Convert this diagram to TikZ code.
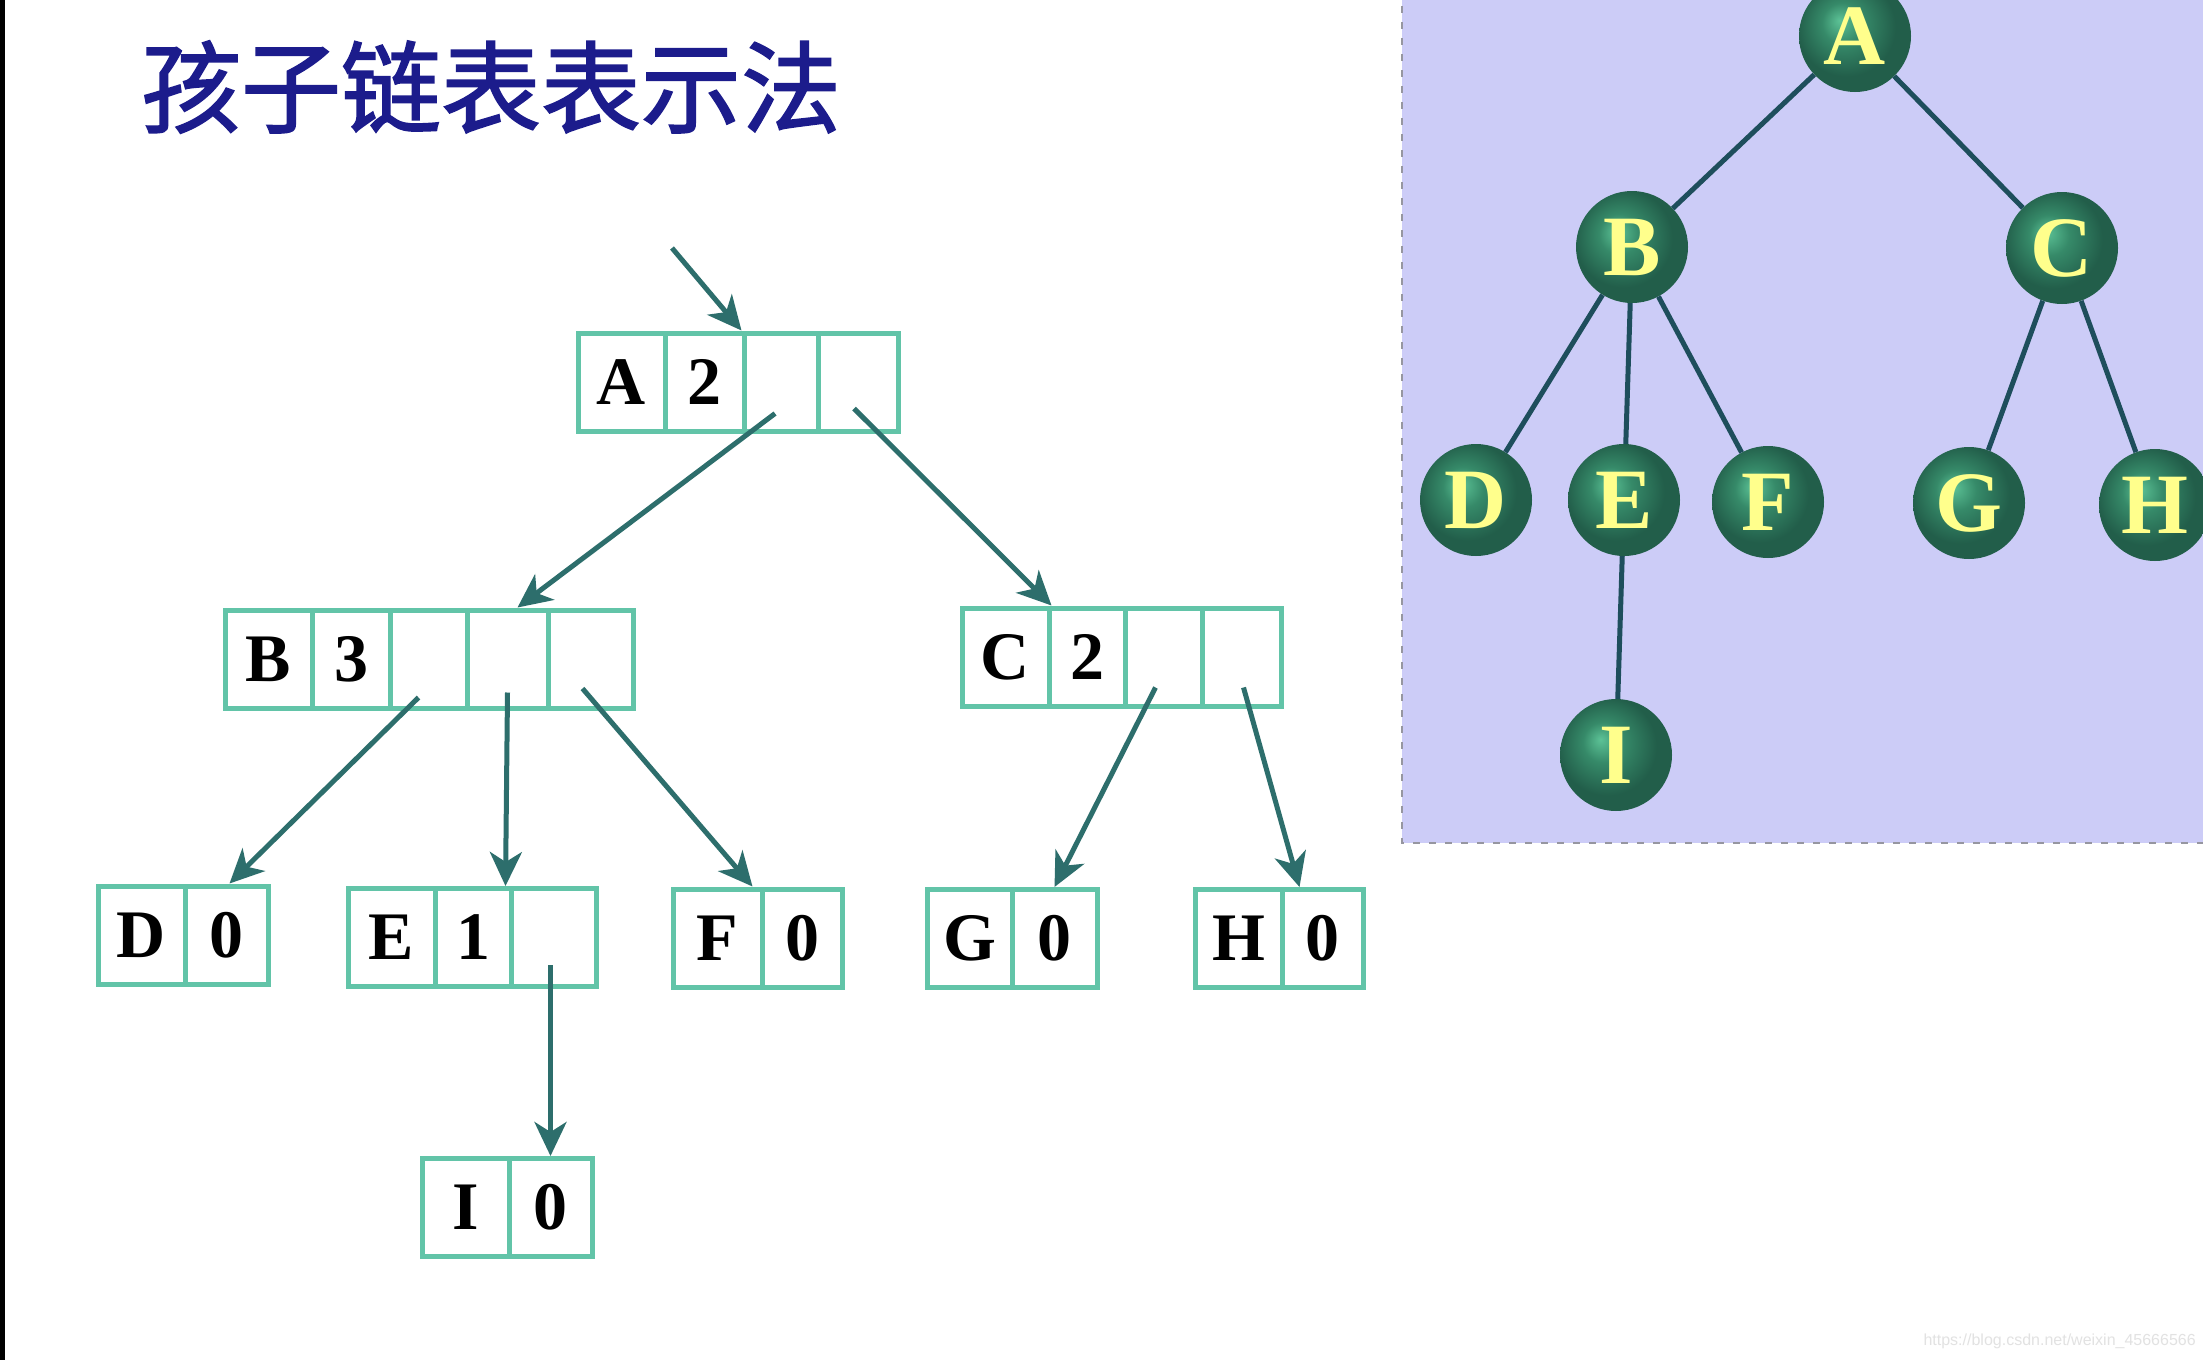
\documentclass[tikz,border=0pt]{standalone}
\usepackage{fontspec}
\setmainfont{Liberation Serif}
\newfontfamily\cjk[FakeBold=1.6]{Noto Sans CJK SC}
\newfontfamily\wmfont{Liberation Sans}
\usetikzlibrary{arrows.meta}
\definecolor{boxline}{RGB}{98,196,168}
\definecolor{arrowc}{RGB}{45,110,108}
\definecolor{titleblue}{RGB}{28,28,140}
\definecolor{panelbg}{RGB}{204,204,247}
\definecolor{paneledge}{RGB}{150,150,160}
\definecolor{treeedge}{RGB}{30,78,92}
\definecolor{gl}{RGB}{92,194,150}
\definecolor{gm}{RGB}{54,138,105}
\definecolor{gd}{RGB}{34,94,74}
\definecolor{letteryellow}{RGB}{255,255,140}
\definecolor{wm}{RGB}{226,226,226}
\pgfdeclareradialshading{greenball}{\pgfpoint{-7bp}{7bp}}{color(0bp)=(gl); color(9bp)=(gm); color(22bp)=(gd); color(25bp)=(gd); color(50bp)=(gd)}
\newcommand{\mkcell}[5]{\node[cellbox, minimum width=#3pt] (#1) at (#2,#4) {#5};}
\tikzset{
  cellbox/.style={draw=boxline, line width=5pt, fill=white, minimum height=98pt, inner sep=0pt,
    font=\fontsize{68}{70}\selectfont\bfseries, anchor=center},
  ptr/.style={draw=arrowc, line width=5pt, -{Stealth[length=34pt,width=32pt,inset=10pt]}},
  treenode/.style={circle, minimum size=112pt, inner sep=0pt, shading=greenball, text=letteryellow,
    font=\fontsize{86}{88}\selectfont\bfseries},
  treeline/.style={draw=treeedge, line width=5pt}
}
\begin{document}
\begin{tikzpicture}[x=1pt,y=-1pt]
\useasboundingbox (0,0) rectangle (2203,1360);
\begin{scope}
\clip (0,0) rectangle (2203,1360);
\fill[white] (0,0) rectangle (2203,1360);
\fill[black] (0,0) rectangle (5,1360);
% title
\node[font=\cjk\fontsize{100}{100}\selectfont, text=titleblue] (title) at (491,87) {孩子链表表示法};
% right panel
\fill[panelbg] (1402,-10) rectangle (2215,843);
\draw[paneledge, line width=2pt, dash pattern=on 7pt off 9pt] (1402,-10) -- (1402,843) -- (2215,843);
% tree
\node[treenode] (tA) at (1855,36) {A};
\node[treenode] (tB) at (1632,247) {B};
\node[treenode] (tC) at (2062,248) {C};
\node[treenode] (tD) at (1476,500) {D};
\node[treenode] (tE) at (1624,500) {E};
\node[treenode] (tF) at (1768,502) {F};
\node[treenode] (tG) at (1969,503) {G};
\node[treenode] (tH) at (2155,505) {H};
\node[treenode] (tI) at (1616,755) {I};
\draw[treeline] (tA) -- (tB);
\draw[treeline] (tA) -- (tC);
\draw[treeline] (tB) -- (tD);
\draw[treeline] (tB) -- (tE);
\draw[treeline] (tB) -- (tF);
\draw[treeline] (tC) -- (tG);
\draw[treeline] (tC) -- (tH);
\draw[treeline] (tE) -- (tI);
% boxes
\mkcell{A1}{621.5}{87}{382}{A}
\mkcell{A2}{704.5}{79}{382}{2}
\mkcell{A3}{781}{74}{382}{}
\mkcell{A4}{858}{80}{382}{}
\mkcell{B1}{268.5}{87}{659}{B}
\mkcell{B2}{351}{78}{659}{3}
\mkcell{B3}{428.5}{77}{659}{}
\mkcell{B4}{507.5}{81}{659}{}
\mkcell{B5}{590.5}{85}{659}{}
\mkcell{C1}{1005.5}{87}{657}{C}
\mkcell{C2}{1087}{76}{657}{2}
\mkcell{C3}{1163.5}{77}{657}{}
\mkcell{C4}{1241.5}{79}{657}{}
\mkcell{D1}{141.5}{87}{935}{D}
\mkcell{D2}{226.5}{83}{935}{0}
\mkcell{E1}{391.5}{87}{937.5}{E}
\mkcell{E2}{473}{76}{937.5}{1}
\mkcell{E3}{553.5}{85}{937.5}{}
\mkcell{F1}{717.5}{89}{938}{F}
\mkcell{F2}{802}{80}{938}{0}
\mkcell{G1}{969.5}{85}{938.5}{G}
\mkcell{G2}{1054.5}{85}{938.5}{0}
\mkcell{H1}{1238.5}{87}{938.5}{H}
\mkcell{H2}{1322.5}{81}{938.5}{0}
\mkcell{I1}{465.5}{87}{1207.5}{I}
\mkcell{I2}{550.5}{83}{1207.5}{0}
% arrows
\coordinate (Ain) at (672,248);
\draw[ptr] (Ain) -- (A3.north west);
\draw[ptr] ([xshift=-6pt,yshift=20pt]A3.south) -- ([xshift=10pt]B4.north);
\draw[ptr] ([xshift=-4pt,yshift=25pt]A4.south) -- ([xshift=5pt]C2.north west);
\draw[ptr] ([xshift=-10pt,yshift=13pt]B3.south) -- ([xshift=3pt]D2.north);
\draw[ptr] ([yshift=18pt]B4.south) -- ([xshift=-3pt]E3.north west);
\draw[ptr] ([xshift=-8pt,yshift=22pt]B5.south) -- ([xshift=-7pt]F2.north west);
\draw[ptr] ([xshift=-8pt,yshift=21pt]C3.south) -- (G2.north);
\draw[ptr] ([xshift=2pt,yshift=21pt]C4.south) -- ([xshift=20pt]H2.north west);
\draw[ptr] ([xshift=-3pt,yshift=24pt]E3.south) -- (I2.north);
% watermark
\node[font=\wmfont\fontsize{16}{16}\selectfont, text=wm, anchor=west] (wmark) at (1920,1341) {https://blog.csdn.net/weixin\_45666566};
\end{scope}
\end{tikzpicture}
\end{document}
